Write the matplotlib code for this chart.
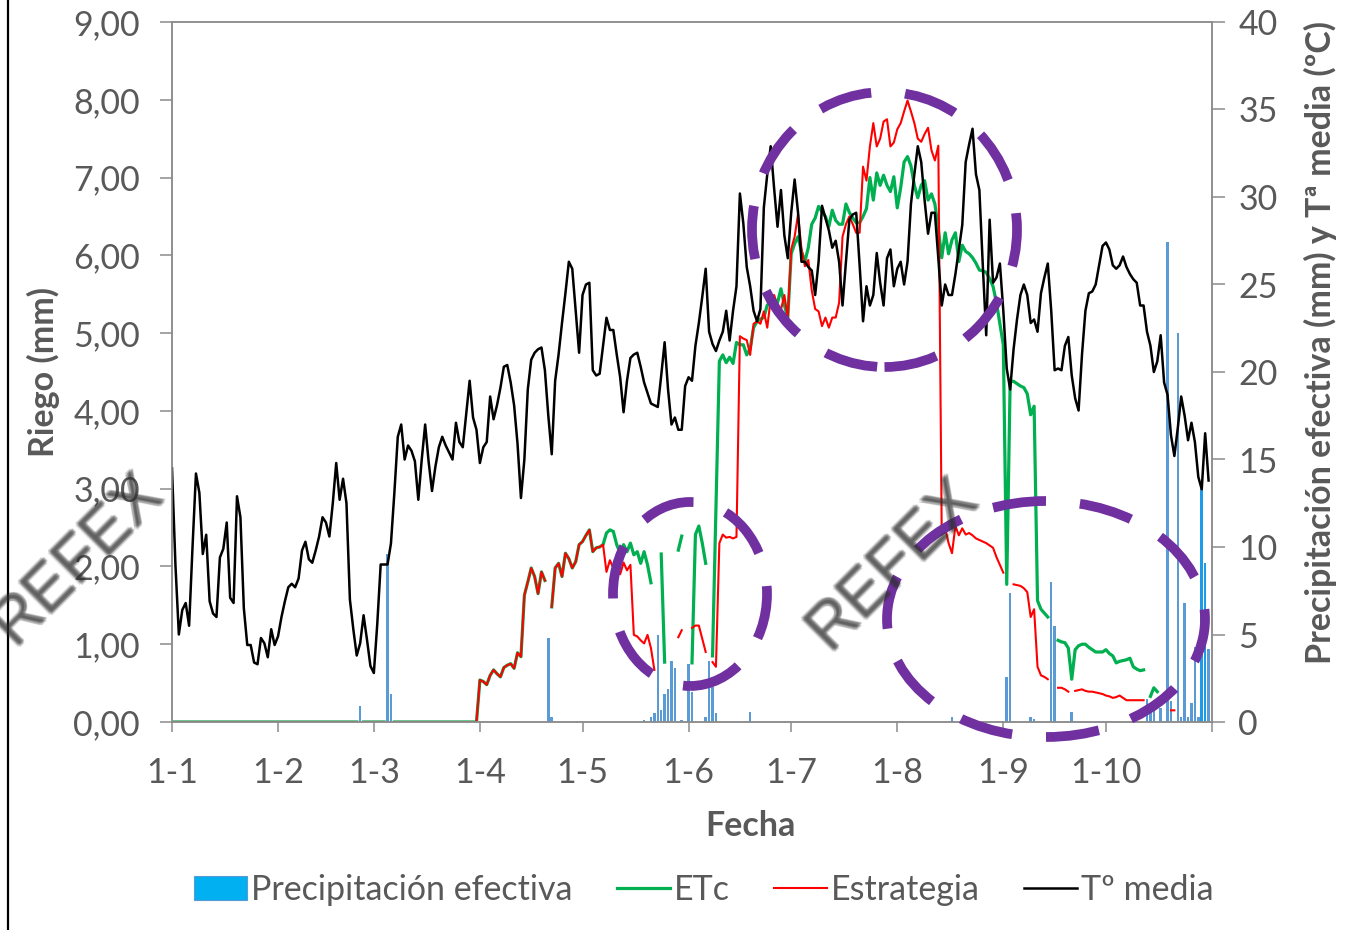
import matplotlib
matplotlib.use("Agg")
import matplotlib.pyplot as plt
import matplotlib.transforms as mtransforms
from matplotlib.patches import Ellipse, Patch
from matplotlib.lines import Line2D

nan = float("nan")
plt.rcParams['font.family'] = ['Lato', 'DejaVu Sans']

# ---------------- data ----------------
month_days = [0, 31, 59, 90, 120, 151, 181, 212, 243, 273]
month_labels = ["1-1", "1-2", "1-3", "1-4", "1-5", "1-6", "1-7", "1-8", "1-9", "1-10"]
axis_end_day = 304

# mean temperature (ºC), one value per day from 1 Jan (day 0)
temp_media = [
    14.5, 9.0, 5.0, 6.4, 6.8, 5.5, 10.0, 14.2, 13.1, 9.6,
    10.7, 6.9, 6.2, 6.0, 9.4, 9.9, 11.4, 7.1, 6.8, 12.9,
    11.7, 6.5, 4.4, 4.4, 3.4, 3.3, 4.8, 4.5, 3.7, 5.3,
    4.4, 4.9, 6.0, 6.9, 7.7, 7.9, 7.7, 8.2, 9.8, 10.3,
    9.3, 9.1, 9.8, 10.6, 11.7, 11.4, 10.6, 12.5, 14.8, 12.7,
    13.9, 12.5, 7.0, 5.3, 3.8, 4.5, 6.1, 4.7, 3.2, 2.8,
    5.6, 9.0, 9.0, 9.0, 10.2, 13.1, 16.3, 17.0, 15.0, 15.8,
    15.5, 14.9, 12.7, 15.0, 17.0, 14.9, 13.2, 14.6, 15.7, 16.3,
    15.8, 15.4, 15.0, 17.1, 16.0, 15.7, 17.6, 19.5, 17.4, 16.7,
    14.8, 15.7, 16.0, 18.6, 17.3, 18.1, 19.1, 20.3, 20.4, 19.4,
    18.1, 15.9, 12.8, 15.0, 19.0, 20.7, 21.1, 21.3, 21.4, 20.1,
    17.5, 15.3, 19.5, 21.0, 22.8, 24.5, 26.3, 25.9, 23.5, 21.1,
    24.4, 25.0, 25.1, 20.1, 19.8, 19.9, 21.5, 23.1, 22.4, 22.4,
    21.0, 19.7, 17.7, 19.5, 20.8, 21.0, 21.1, 20.3, 19.4, 18.8,
    18.2, 18.1, 18.0, 19.8, 21.7, 19.0, 17.0, 17.4, 16.7, 16.7,
    19.2, 19.7, 19.5, 21.5, 22.8, 24.3, 25.9, 22.3, 21.6, 21.2,
    21.8, 22.3, 23.5, 21.8, 23.5, 24.9, 30.2, 28.5, 26.0, 24.9,
    23.5, 22.9, 23.6, 29.4, 31.3, 32.9, 30.5, 28.3, 30.4, 27.8,
    26.5, 29.1, 31.0, 29.1, 26.3, 26.3, 26.0, 25.8, 24.4, 26.3,
    29.5, 28.8, 28.1, 27.1, 27.5, 26.3, 23.8, 26.3, 28.7, 29.0,
    29.1, 26.1, 22.9, 24.9, 23.8, 24.4, 26.8, 25.1, 23.8, 26.5,
    27.0, 24.9, 25.9, 26.3, 25.0, 26.3, 29.6, 31.3, 32.9, 32.0,
    29.8, 27.9, 29.1, 29.1, 26.5, 23.8, 25.0, 24.4, 24.4, 25.6,
    27.0, 28.4, 32.0, 33.0, 33.9, 31.3, 30.4, 26.1, 22.1, 28.7,
    25.1, 25.4, 26.2, 23.5, 20.2, 19.0, 21.3, 23.0, 24.4, 25.0,
    24.4, 22.8, 23.0, 22.3, 24.5, 25.4, 26.2, 23.5, 20.1, 20.2,
    20.1, 21.5, 22.0, 19.8, 18.5, 17.8, 21.0, 23.5, 24.5, 24.6,
    25.0, 26.1, 27.2, 27.4, 27.0, 26.1, 25.9, 26.1, 26.6, 26.0,
    25.6, 25.3, 25.1, 23.8, 23.8, 22.3, 21.5, 20.0, 20.6, 22.1,
    19.4, 18.7, 16.4, 15.2, 16.8, 18.6, 17.5, 16.1, 17.1, 16.0,
    14.0, 13.3, 16.5, 13.8,
]

# ETc (mm), one value per day from 1 Jan; nan = no value
etc = [
    0, 0, 0, 0, 0, 0, 0, 0, 0, 0,
    0, 0, 0, 0, 0, 0, 0, 0, 0, 0,
    0, 0, 0, 0, 0, 0, 0, 0, 0, 0,
    0, 0, 0, 0, 0, 0, 0, 0, 0, 0,
    0, 0, 0, 0, 0, 0, 0, 0, 0, 0,
    0, 0, 0, 0, 0, nan, 0, 0, 0, 0,
    0, 0, 0, nan, nan, 0, 0, 0, 0, 0,
    0, 0, 0, 0, 0, 0, 0, 0, 0, 0,
    0, 0, 0, 0, 0, 0, 0, 0, 0, 0,
    0.54, 0.52, 0.48, 0.60, 0.67, 0.62, 0.58, 0.70, 0.73, 0.75,
    0.69, 0.89, 0.84, 1.63, 1.80, 1.98, 1.87, 1.65, 1.93, 1.82,
    nan, 1.48, 1.98, 2.04, 1.87, 2.17, 2.10, 1.98, 2.06, 2.28,
    2.32, 2.40, 2.47, 2.19, 2.24, 2.25, 2.28, 2.43, 2.47, 2.45,
    2.28, 2.17, 2.28, 2.19, 2.30, 2.15, 2.19, 2.04, 2.19, 2.02,
    1.79, nan, nan, 2.16, 0.77, nan, nan, nan, 2.21, 2.39,
    nan, nan, 0.76, 2.41, 2.52, 2.30, 2.04, nan, 0.85, 2.75,
    4.64, 4.72, 4.62, 4.69, 4.61, 4.88, 4.85, 4.85, 4.72, 4.80,
    5.07, 5.15, 5.18, 5.20, 5.36, 5.40, 5.44, 5.39, 5.57, 5.36,
    5.20, 6.02, 6.15, 6.24, 6.05, 5.92, 6.10, 6.40, 6.48, 6.63,
    6.56, 6.50, 6.37, 6.58, 6.45, 6.40, 6.40, 6.66, 6.55, 6.48,
    6.42, 6.42, 6.50, 6.60, 7.00, 6.71, 7.06, 6.90, 7.03, 6.90,
    6.82, 7.01, 6.61, 6.87, 7.20, 7.27, 7.15, 6.90, 6.74, 6.90,
    6.96, 6.71, 6.79, 6.66, 6.34, 5.97, 6.29, 6.02, 6.20, 6.29,
    5.92, 6.13, 6.05, 6.02, 5.97, 5.90, 5.81, 5.80, 5.78, 5.70,
    5.60, 5.39, 5.12, 4.85, 1.77, 4.38, 4.38, 4.35, 4.32, 4.30,
    4.22, 3.95, 4.06, 1.56, 1.45, 1.40, 1.35, nan, nan, 1.05,
    1.03, 1.02, 0.95, 0.55, 0.93, 0.98, 1.00, 1.00, 0.96, 0.93,
    0.90, 0.90, 0.90, 0.93, 0.88, 0.85, 0.76, 0.78, 0.79, 0.80,
    0.82, 0.71, 0.68, 0.66, 0.67, nan, 0.33, 0.44, 0.39, nan,
    nan, nan, nan, nan, nan, nan, nan, nan, nan, nan,
    nan, nan, nan, nan,
]

# Estrategia (mm), one value per day from 1 Jan; nan = no value
estrategia = [
    0, 0, 0, 0, 0, 0, 0, 0, 0, 0,
    0, 0, 0, 0, 0, 0, 0, 0, 0, 0,
    0, 0, 0, 0, 0, 0, 0, 0, 0, 0,
    0, 0, 0, 0, 0, 0, 0, 0, 0, 0,
    0, 0, 0, 0, 0, 0, 0, 0, 0, 0,
    0, 0, 0, 0, 0, nan, 0, 0, 0, 0,
    0, 0, 0, nan, nan, 0, 0, 0, 0, 0,
    0, 0, 0, 0, 0, 0, 0, 0, 0, 0,
    0, 0, 0, 0, 0, 0, 0, 0, 0, 0,
    0.54, 0.52, 0.48, 0.60, 0.67, 0.62, 0.58, 0.70, 0.73, 0.75,
    0.69, 0.89, 0.84, 1.63, 1.80, 1.98, 1.87, 1.65, 1.93, 1.82,
    nan, 1.48, 1.98, 2.04, 1.87, 2.17, 2.10, 1.98, 2.06, 2.28,
    2.32, 2.40, 2.47, 2.19, 2.24, 2.25, 2.28, 1.93, 2.08, 1.98,
    2.02, 1.90, 2.05, 1.95, 2.02, 1.12, 1.10, 1.05, 1.01, 1.12,
    0.95, 0.67, nan, nan, nan, nan, nan, nan, 1.09, 1.18,
    nan, nan, 1.21, 1.24, 1.24, 1.07, 0.90, nan, 0.77, 0.71,
    2.30, 2.41, 2.37, 2.38, 2.36, 2.38, 4.96, 4.93, 4.91, 4.72,
    5.12, 5.15, 5.12, 5.28, 5.07, 5.44, 5.49, 5.35, 5.30, 5.49,
    5.20, 6.08, 6.24, 6.53, 6.08, 5.86, 5.94, 5.55, 5.31, 5.28,
    5.09, 5.20, 5.07, 5.20, 5.20, 5.39, 6.24, 6.40, 6.50, 6.40,
    6.29, 6.29, 7.14, 6.96, 7.40, 7.70, 7.40, 7.50, 7.72, 7.75,
    7.40, 7.45, 7.62, 7.70, 7.85, 7.99, 7.85, 7.70, 7.50, 7.46,
    7.56, 7.64, 7.35, 7.22, 7.41, 2.41, 2.49, 2.30, 2.17, 2.52,
    2.40, 2.49, 2.41, 2.43, 2.40, 2.36, 2.34, 2.32, 2.30, 2.27,
    2.24, 2.12, 2.02, 1.92, nan, nan, 1.77, 1.76, 1.75, 1.72,
    1.67, 1.35, 1.45, 0.71, 0.60, 0.58, 0.55, nan, nan, 0.44,
    0.44, 0.42, 0.39, nan, 0.40, 0.41, 0.42, 0.40, 0.39, 0.39,
    0.38, 0.37, 0.36, 0.34, 0.33, 0.31, 0.32, 0.34, 0.31, 0.28,
    0.28, 0.28, 0.28, 0.28, 0.28, nan, nan, nan, nan, nan,
    nan, nan, 0.15, 0.15, nan, nan, nan, nan, nan, nan,
    nan, nan, nan, nan,
]

# effective precipitation (mm): day index and amount
rain_day = [55, 63, 64, 110, 111, 138, 140, 141, 142, 143, 144, 145, 146, 147, 149,
            151, 152, 156, 157, 158, 159, 169, 228, 244, 245, 251, 252, 257, 258, 263,
            285, 286, 287, 289, 291, 292, 294, 295, 296, 297, 298, 299, 300, 301, 302, 303]
rain_mm = [0.9, 9.6, 1.6, 4.8, 0.3, 0.1, 0.3, 0.5, 5.0, 0.7, 1.6, 1.9, 3.5, 3.1, 0.1,
           3.3, 1.7, 0.3, 3.5, 2.0, 0.5, 0.6, 0.3, 2.6, 7.4, 0.3, 0.2, 8.0, 5.5, 0.6,
           1.3, 1.0, 1.0, 0.8, 27.4, 1.2, 22.2, 0.3, 6.8, 0.3, 1.1, 4.3, 0.3, 13.7, 9.1, 4.2]

left_ticks = [0, 1, 2, 3, 4, 5, 6, 7, 8, 9]
right_ticks = [0, 5, 10, 15, 20, 25, 30, 35, 40]

days = list(range(len(temp_media)))

# ---------------- styling ----------------
W, H = 1346, 930
GRAY = '#595959'
SPINE = '#8c8c8c'
FS = 24.5

fig = plt.figure(figsize=(W / 100, H / 100), dpi=100)
fig.patch.set_facecolor('white')
L, R = 172 / W, 1212 / W
B, T = 1 - 722 / H, 1 - 22 / H
ax = fig.add_axes([L, B, R - L, T - B])
axb = ax.twinx()
axt = ax.twinx()
axb.set_zorder(0)
ax.set_zorder(1)
axt.set_zorder(2)
for a in (ax, axb, axt):
    a.patch.set_visible(False)

# bars (right axis)
bar_colors = ['#1E9BE6' if d in (301, 302) else '#5B9BD5' for d in rain_day]
axb.bar(rain_day, rain_mm, width=0.75, color=bar_colors, linewidth=0)
axb.set_ylim(0, 40)
axb.set_yticks([])
for s in axb.spines.values():
    s.set_visible(False)

# ETc / Estrategia (left axis)
ax.plot(days, etc, color='#00B050', lw=2.3, solid_joinstyle='round')
ax.plot(days, estrategia, color='#FF0000', lw=1.5, solid_joinstyle='round')
ax.set_xlim(0, axis_end_day)
ax.set_ylim(0, 9)
ax.set_yticks(left_ticks)
ax.set_yticklabels([f"{v:.2f}".replace('.', ',') for v in left_ticks])
ax.set_xticks(month_days + [axis_end_day])
ax.set_xticklabels(month_labels + [""])
ax.tick_params(axis='y', colors=SPINE, labelcolor=GRAY, labelsize=FS, length=9, width=1.1, pad=14)
ax.tick_params(axis='x', colors=SPINE, labelcolor=GRAY, labelsize=FS, length=7, width=1.1, pad=18.5)
for s in ax.spines.values():
    s.set_color(SPINE)
    s.set_linewidth(1.1)

# temperature (right axis)
axt.plot(days, temp_media, color='black', lw=1.8, solid_joinstyle='round')
axt.set_ylim(0, 40)
axt.set_yticks(right_ticks)
axt.tick_params(axis='y', colors=SPINE, labelcolor=GRAY, labelsize=FS, length=9, width=1.1, pad=10)
for s in axt.spines.values():
    s.set_color(SPINE)
    s.set_linewidth(1.1)

ax.set_ylabel("Riego (mm)", fontsize=FS, fontweight='bold', color=GRAY)
ax.yaxis.set_label_coords((60 - 172) / 1040, 0.5)
ax.set_xlabel("Fecha", fontsize=FS, fontweight='bold', color=GRAY)
ax.xaxis.set_label_coords((750 - 172) / 1040, (722 - 810) / 700)
axt.set_ylabel("Precipitación efectiva (mm) y Tª media (ºC)", fontsize=FS,
               fontweight='bold', color=GRAY, rotation=90)
axt.yaxis.set_label_coords((1304 - 172) / 1040, (722 - 342) / 700)

# legend
handles = [Patch(facecolor='#00B0F0', edgecolor='#5B9BD5', linewidth=0.8),
           Line2D([], [], color='#00B050', lw=2.3),
           Line2D([], [], color='#FF0000', lw=1.5),
           Line2D([], [], color='black', lw=1.8)]
labels = ["Precipitación efectiva", "ETc", "Estrategia", "Tº media"]
leg = fig.legend(handles, labels, loc='center', bbox_to_anchor=(704 / W, 1 - 890 / H),
                 ncol=4, frameon=False, fontsize=FS, handlelength=1.55,
                 handletextpad=0.12, columnspacing=1.3, borderaxespad=0)
for t in leg.get_texts():
    t.set_color(GRAY)

# purple dashed annotation ellipses
for cx, cy, w, h in [(884.5, 229.5, 265, 275), (690, 594, 154, 184), (1046, 619, 318, 236)]:
    e = Ellipse((cx / W, 1 - cy / H), w / W, h / H, transform=fig.transFigure,
                fill=False, edgecolor='#7030A0', linewidth=7, linestyle=(0, (5.5, 3.5)),
                zorder=10)
    fig.add_artist(e)

# blurred REFEX watermarks
for cx, cy in [(78, 558), (893, 563)]:
    for dx in (-1.5, 0, 1.5):
        for dy in (-1.5, 0, 1.5):
            tr = mtransforms.offset_copy(fig.transFigure, fig=fig, x=dx, y=dy, units='dots')
            fig.text(cx / W, 1 - cy / H, "REFEX", transform=tr, rotation=45,
                     ha='center', va='center', fontsize=46, family='Liberation Sans',
                     color='#303030', alpha=0.15, zorder=11, rotation_mode='anchor')

# left border line of the picture
fig.add_artist(Line2D([8 / W, 8 / W], [0, 1], transform=fig.transFigure, color='black', lw=1.6))

fig.savefig("out.png", dpi=100, facecolor='white')
